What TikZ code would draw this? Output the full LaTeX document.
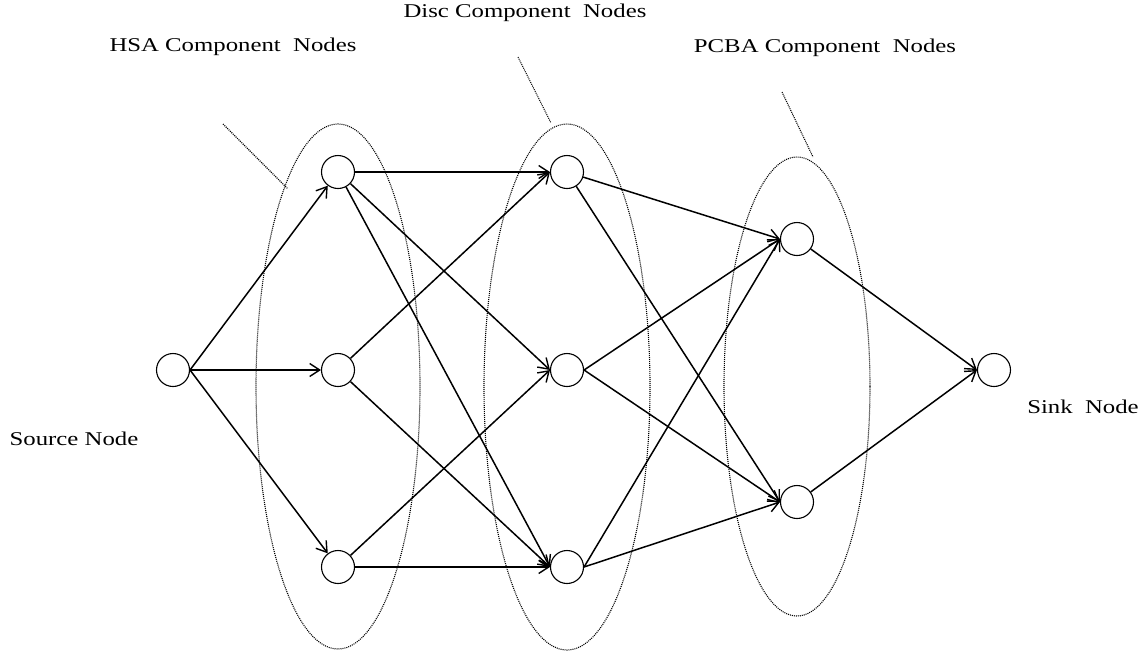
\documentclass[tikz,border=0pt]{standalone}
\usepackage{fontspec}
\setmainfont[FakeStretch=1.27]{Liberation Serif}
\usetikzlibrary{arrows.meta}

\tikzset{
  vertex/.style={circle, draw, line width=1.1pt, minimum size=33pt, inner sep=0pt},
  flow/.style={line width=1.5pt, -{Straight Barb[length=10pt,width=13pt,line width=1.4pt]}},
  group/.style={line width=1.1pt, dash pattern=on 1pt off 1pt},
  leader/.style={line width=1.1pt, dash pattern=on 1pt off 1pt},
  caption/.style={font=\fontsize{19.5pt}{22pt}\selectfont, anchor=base, inner sep=0pt}
}

\begin{document}
\begin{tikzpicture}[x=1pt, y=-1pt]
  \useasboundingbox (0,0) rectangle (1146,654);

  % dotted groupings of the component nodes
  \draw[group] (338,386.5) ellipse [x radius=82, y radius=262.5];
  \draw[group] (567,387) ellipse [x radius=83, y radius=263];
  \draw[group] (797,386.5) ellipse [x radius=73, y radius=229.5];

  % leader lines from the group captions
  \coordinate (lA1) at (223,124);
  \coordinate (lA2) at (288,189);
  \coordinate (lB1) at (518,57);
  \coordinate (lB2) at (551,123);
  \coordinate (lC1) at (782,92);
  \coordinate (lC2) at (813,157);
  \draw[leader] (lA1) -- (lA2);
  \draw[leader] (lB1) -- (lB2);
  \draw[leader] (lC1) -- (lC2);

  % nodes
  \node[vertex] (src) at (173,370) {};
  \node[vertex] (h1) at (338,172) {};
  \node[vertex] (h2) at (338,370) {};
  \node[vertex] (h3) at (338,567) {};
  \node[vertex] (d1) at (567,172) {};
  \node[vertex] (d2) at (567,370) {};
  \node[vertex] (d3) at (567,567) {};
  \node[vertex] (p1) at (797,239) {};
  \node[vertex] (p2) at (797,502) {};
  \node[vertex] (snk) at (994,370) {};

  % captions
  \node[caption] (capH) at (233,51) {HSA Component\ \ Nodes};
  \node[caption] (capD) at (525,17) {Disc Component\ \ Nodes};
  \node[caption] (capP) at (825,52) {PCBA Component\ \ Nodes};
  \node[caption] (capS) at (74,445) {Source Node};
  \node[caption] (capK) at (1083,413) {Sink\ \ Node};

  % source to HSA
  \draw[flow] (src.east) -- (h1);
  \draw[flow] (src.east) -- (h2.west);
  \draw[flow] (src.east) -- (h3);

  % HSA to disc
  \draw[flow] (h1.east) -- (d1.west);
  \draw[flow] (h1) -- (d2.west);
  \draw[flow] (h1) -- (d3.west);
  \draw[flow] (h2) -- (d1.west);
  \draw[flow] (h2) -- (d3.west);
  \draw[flow] (h3) -- (d2.west);
  \draw[flow] (h3.east) -- (d3.west);

  % disc to PCBA
  \draw[flow] (d1) -- (p1.west);
  \draw[flow] (d1) -- (p2.west);
  \draw[flow] (d2.east) -- (p1.west);
  \draw[flow] (d2.east) -- (p2.west);
  \draw[flow] (d3.east) -- (p1.west);
  \draw[flow] (d3.east) -- (p2.west);

  % PCBA to sink
  \draw[flow] (p1) -- (snk.west);
  \draw[flow] (p2) -- (snk.west);
\end{tikzpicture}
\end{document}
